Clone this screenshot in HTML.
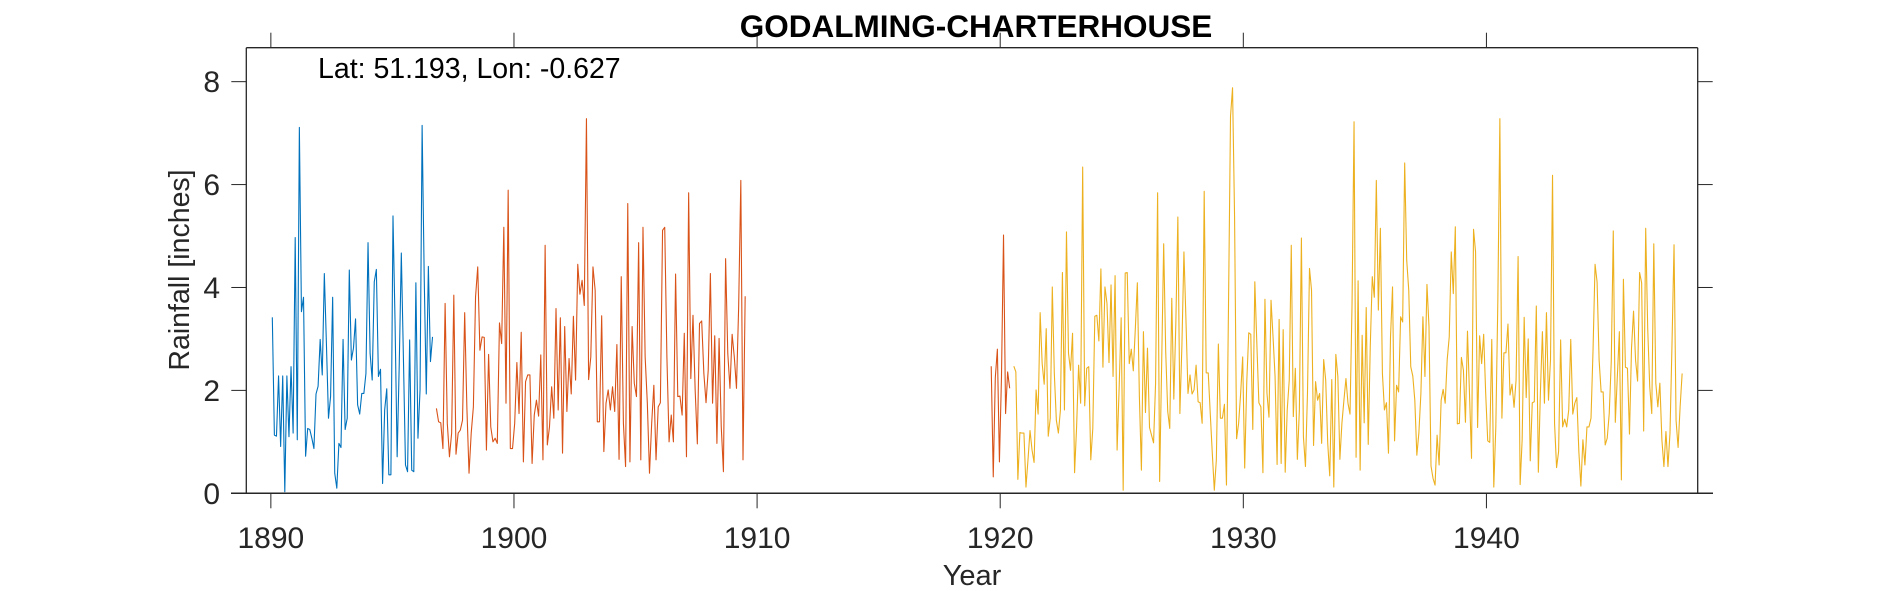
<!DOCTYPE html>
<html><head><meta charset="utf-8"><style>
html,body{margin:0;padding:0;background:#fff;}
svg{display:block;font-family:"Liberation Sans",Arial,sans-serif;}
</style></head><body>
<svg id="chart" width="1890" height="591" viewBox="0 0 1890 591" xmlns="http://www.w3.org/2000/svg">
<rect width="1890" height="591" fill="#fff"/>
<g id="axes"></g>
<g id="series"></g>
<text x="976" y="37" text-anchor="middle" font-size="31.5" font-weight="bold" fill="#000">GODALMING-CHARTERHOUSE</text>
<text x="318" y="78" font-size="28.5" fill="#000">Lat: 51.193, Lon: -0.627</text>
<text x="972" y="585" text-anchor="middle" font-size="29" fill="#262626">Year</text>
<text transform="translate(189,270) rotate(-90)" text-anchor="middle" font-size="28.5" fill="#262626">Rainfall [inches]</text>
</svg>
<script>
const xTicks = [1890, 1900, 1910, 1920, 1930, 1940];
const yTicks = [0, 2, 4, 6, 8];
const seriesNames = ["blue-series", "red-series-early", "red-series-late", "yellow-series"];
const seriesColors = ["#0072BD", "#D95319", "#D95319", "#EDB120"];
const seriesStart = [1890.06, 1896.81, 1919.63, 1920.56];
const seriesEnd = [1896.65, 1909.51, 1920.39, 1948.05];
const blueValues = [3.42,1.13,1.11,2.28,0.91,2.28,0.03,2.28,1.10,2.46,1.17,4.97,1.04,7.11,3.53,3.81,0.72,1.26,1.24,1.07,0.87,1.93,2.08,2.99,2.30,4.27,2.91,1.46,1.88,3.81,0.39,0.10,0.97,0.89,2.99,1.24,1.46,4.34,2.59,2.82,3.39,1.72,1.54,1.94,1.94,2.33,4.87,2.72,2.20,4.11,4.35,2.27,2.41,0.19,1.62,2.03,0.36,0.36,5.39,3.30,0.71,2.5,4.67,2.65,0.55,0.42,2.98,0.45,0.42,4.09,1.07,2.01,7.15,4.21,1.93,4.41,2.56,3.04];
const redEarlyValues = [1.65,1.39,1.37,0.87,3.69,1.36,0.71,1.17,3.85,0.76,1.17,1.23,1.42,3.51,1.68,0.39,1.17,1.68,3.82,4.40,2.78,3.04,3.03,0.84,2.70,1.29,1.00,1.07,0.97,3.31,2.91,5.17,1.75,5.89,0.87,0.87,1.36,2.54,1.55,3.13,0.61,2.17,2.30,2.30,0.58,1.52,1.81,1.50,2.69,0.65,4.82,0.94,1.29,2.07,1.46,3.59,1.62,3.41,0.78,3.24,1.59,2.62,1.93,3.44,2.20,4.45,3.87,4.14,3.65,7.28,2.21,2.65,4.40,3.95,1.39,1.39,3.45,0.81,1.75,2.01,1.62,2.07,1.59,2.89,0.66,4.21,
1.36,0.52,5.63,0.61,3.24,2.14,1.88,4.87,0.65,5.17,2.65,1.75,0.39,1.36,2.10,0.65,1.68,1.76,5.11,5.17,2.65,1.00,1.52,1.00,4.26,1.88,1.89,1.52,3.11,0.71,5.84,2.23,3.46,2.01,0.96,3.30,3.35,2.33,1.76,2.39,4.27,1.75,3.06,0.97,3.01,1.29,0.42,4.56,2.72,2.04,3.09,2.65,2.04,3.62,6.08,0.65,3.83];
const redLateValues = [2.47,0.32,2.25,2.80,0.61,2.25,5.02,1.55,2.36,2.04];
const yellowValues = [2.47,2.36,0.27,1.18,1.17,1.17,0.12,0.65,1.22,0.84,0.60,2.01,1.54,3.51,2.52,2.12,3.20,1.11,1.46,4.01,2.33,1.42,1.17,1.61,4.29,1.62,5.08,2.72,2.39,3.11,0.40,1.29,2.49,1.75,6.34,1.70,2.43,2.46,0.65,1.26,3.44,3.46,2.96,4.36,2.45,4.01,3.69,2.54,4.05,2.27,4.23,0.84,2.04,3.41,0.06,4.28,4.29,2.52,2.80,2.38,3.20,4.09,1.88,0.45,3.14,1.57,2.82,1.28,1.13,0.98,2.14,5.84,0.23,2.52,4.85,2.75,1.59,1.26,3.79,1.83,3.30,5.37,1.55,2.88,4.69,3.37,1.94,2.30,1.93,2.01,2.49,1.78,1.76,1.36,5.87,2.34,2.34,1.55,0.78,0.06,
0.65,2.90,1.46,1.46,1.73,0.16,3.62,7.33,7.88,5.37,1.06,1.36,1.94,2.65,0.49,2.14,3.12,3.09,1.24,4.11,2.91,1.76,1.68,0.40,3.77,1.94,1.48,3.75,3.04,2.27,0.56,3.38,0.58,3.18,0.41,1.62,2.20,4.82,1.49,2.43,0.66,1.62,4.96,1.10,0.52,1.94,4.37,3.95,0.93,2.17,1.81,1.94,0.97,2.60,2.20,0.97,0.34,2.21,0.12,2.70,2.27,0.66,1.36,1.81,2.23,1.75,1.54,3.66,7.22,0.70,4.13,0.45,3.07,1.37,3.61,0.95,2.85,4.21,3.81,6.08,3.56,5.15,2.33,1.62,1.76,0.78,3.04,4.01,1.02,2.10,1.97,3.43,3.33,6.42,4.53,3.95,2.46,2.28,1.81,0.74,1.17,1.94,3.43,2.27,4.06,3.24,0.53,0.29,0.16,1.13,0.55,1.81,2.02,1.75,2.60,
3.04,4.69,3.88,5.18,1.35,1.36,2.64,2.39,1.38,3.15,1.94,0.68,5.13,4.69,1.28,3.06,2.52,3.09,1.94,1.02,0.99,2.99,0.12,1.29,3.75,7.28,1.46,2.73,2.73,3.29,1.91,2.12,1.67,2.20,4.60,0.17,1.04,3.42,1.86,3.00,0.63,1.76,1.78,3.64,0.41,1.94,3.14,1.75,3.51,1.81,2.59,6.18,1.36,0.50,0.81,2.98,1.29,1.44,1.29,1.62,2.99,1.54,1.75,1.86,0.81,0.14,1.04,0.55,1.29,1.29,1.46,2.78,4.45,4.11,2.59,1.97,1.97,0.94,1.07,1.55,2.56,5.10,1.38,2.27,3.14,0.26,4.16,2.45,2.43,1.15,2.82,3.54,2.59,2.18,4.29,4.09,1.21,5.15,3.20,2.07,1.55,4.85,2.14,1.68,2.14,1.04,0.52,1.20,0.52,1.17,2.91,4.83,1.42,0.89,1.68,2.33];
const allValues = [blueValues, redEarlyValues, redLateValues, yellowValues];

const NS = "http://www.w3.org/2000/svg";
const L = 246.3, R = 1697.7, T = 47.7, B = 493.3;
const xMin = 1888.99, xMax = 1948.69, yMin = 0, yMax = 8.66;
function xs(v){ return L + (v - xMin) / (xMax - xMin) * (R - L); }
function ys(v){ return B - (v - yMin) / (yMax - yMin) * (B - T); }
function mk(tag, attrs, parent){ const e = document.createElementNS(NS, tag); for (const k in attrs) e.setAttribute(k, attrs[k]); parent.appendChild(e); return e; }

const axes = document.getElementById("axes");
const ax = "#262626";
let e;
e = mk("line", {x1:231, y1:B, x2:1713, y2:B, stroke:ax, "stroke-width":1.5}, axes);


e = mk("line", {x1:L, y1:T, x2:L, y2:B, stroke:ax, "stroke-width":1.3}, axes);


e = mk("line", {x1:L, y1:T, x2:R, y2:T, stroke:ax, "stroke-width":1.3}, axes);


e = mk("line", {x1:R, y1:T, x2:R, y2:B, stroke:ax, "stroke-width":1.3}, axes);



xTicks.forEach(t => {
  const x = xs(t);
  let tk = mk("line", {x1:x, y1:B, x2:x, y2:B + 15, stroke:ax, "stroke-width":1}, axes);
  
  
  let tt = mk("line", {x1:x, y1:T, x2:x, y2:T - 15, stroke:ax, "stroke-width":1}, axes);
  
  
  let lb = mk("text", {x:x, y:548, "text-anchor":"middle", "font-size":30, fill:ax}, axes);
  lb.textContent = t;
  
  
});
yTicks.forEach(t => {
  const y = ys(t);
  let tk = mk("line", {x1:L - 15, y1:y, x2:L, y2:y, stroke:ax, "stroke-width":1}, axes);
  
  
  let tr = mk("line", {x1:R, y1:y, x2:R + 15, y2:y, stroke:ax, "stroke-width":1}, axes);
  
  
  let lb = mk("text", {x:220, y:y + 10.5, "text-anchor":"end", "font-size":30, fill:ax}, axes);
  lb.textContent = t;
  
  
});

const sg = document.getElementById("series");
allValues.forEach((vals, i) => {
  const n = vals.length;
  const pts = vals.map((v, j) => {
    const yr = seriesStart[i] + (n > 1 ? j / (n - 1) : 0) * (seriesEnd[i] - seriesStart[i]);
    return xs(yr).toFixed(2) + "," + ys(v).toFixed(2);
  }).join(" ");
  const pl = mk("polyline", {points:pts, fill:"none", stroke:seriesColors[i], "stroke-width":1.1, "stroke-linejoin":"round"}, sg);
  
  
});
</script>
</body></html>
